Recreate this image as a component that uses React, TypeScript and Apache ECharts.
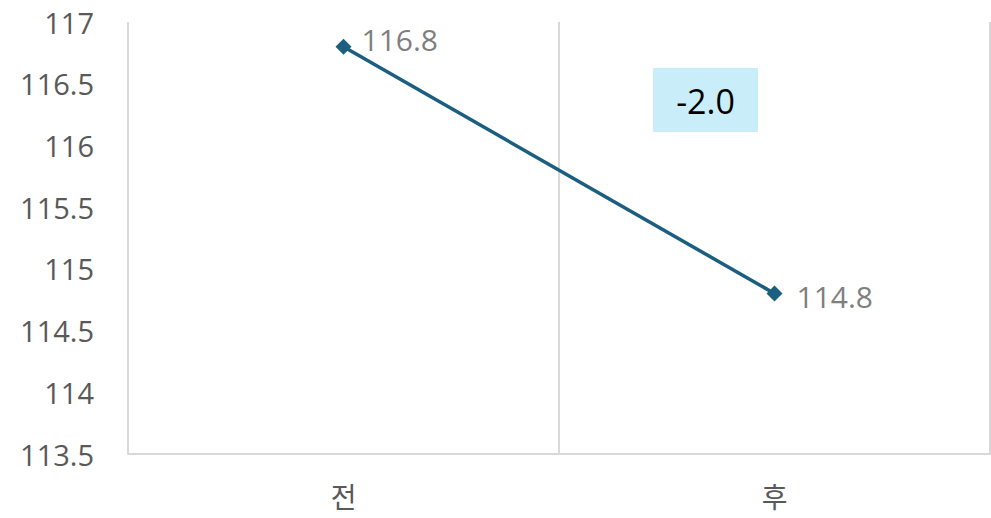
import React, { useEffect, useRef } from "react";
import * as echarts from "echarts";

const categories = ["전", "후"];
const values = [116.8, 114.8];
const yMin = 113.5;
const yMax = 117;
const yStep = 0.5;

const change = values[1] - values[0];
const changeLabel = change.toFixed(1);

const numFont = "'Open Sans', 'Noto Sans', sans-serif";
const krFont = "'Noto Sans CJK KR', 'Noto Sans', sans-serif";

// label nudges per point: first sits a little above, second a little below
const labelOffsets = [
  [-2, -7],
  [2, 3],
];

export default function App() {
  const ref = useRef<HTMLDivElement>(null);

  useEffect(() => {
    if (!ref.current) return;
    const chart = echarts.init(ref.current, null, { renderer: "svg" });
    chart.setOption({
      animation: false,
      grid: { left: 128, right: 1, top: 22, bottom: 64 },
      xAxis: {
        type: "category",
        data: categories,
        boundaryGap: true,
        axisLine: { show: true, lineStyle: { color: "#d9d9d9", width: 2 } },
        axisTick: { show: false },
        splitLine: { show: true, lineStyle: { color: "#d9d9d9", width: 2 } },
        axisLabel: {
          color: "#595959",
          fontSize: 28,
          fontFamily: krFont,
          margin: 28,
        },
      },
      yAxis: {
        type: "value",
        min: yMin,
        max: yMax,
        interval: yStep,
        axisLine: { show: false },
        axisTick: { show: false },
        splitLine: { show: false },
        axisLabel: {
          color: "#595959",
          fontSize: 29,
          fontFamily: numFont,
          margin: 34,
          formatter: (v: number) => String(Math.round(v * 10) / 10),
        },
      },
      series: [
        {
          type: "line",
          data: values.map((v, i) => ({
            value: v,
            label: { offset: labelOffsets[i] },
          })),
          symbol: "diamond",
          symbolSize: 16,
          itemStyle: { color: "#1b5e80" },
          lineStyle: { color: "#1b5e80", width: 3.5 },
          label: {
            show: true,
            position: "right",
            distance: 12,
            color: "#7f7f7f",
            fontSize: 30,
            fontFamily: numFont,
            formatter: (p: any) => Number(p.value).toFixed(1),
          },
        },
      ],
      graphic: [
        {
          type: "rect",
          shape: { x: 653, y: 68, width: 105, height: 64 },
          style: { fill: "#c9eefa" },
        },
        {
          type: "text",
          x: 705.5,
          y: 101,
          style: {
            text: changeLabel,
            fill: "#000000",
            fontSize: 34,
            fontFamily: numFont,
            align: "center",
            verticalAlign: "middle",
          },
        },
      ],
    });
    return () => chart.dispose();
  }, []);

  return <div ref={ref} style={{ width: 991, height: 518, position: "absolute", left: 0, top: 0 }} />;
}
